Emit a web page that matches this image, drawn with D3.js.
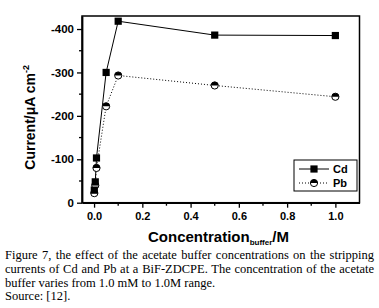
<!DOCTYPE html>
<html>
<head>
<meta charset="utf-8">
<script src="https://cdn.jsdelivr.net/npm/d3@7"></script>
<style>
  body { margin: 0; background: #fff; }
  svg { display: block; }
</style>
</head>
<body>
<div id="chart"></div>
<script>
// Chart values
const concentrations = [0.001, 0.005, 0.01, 0.05, 0.1, 0.5, 1.0];
const cdCurrent = [-29, -48, -103, -300, -418, -386, -385];
const pbCurrent = [-22, -40, -80, -222, -293, -270, -244];
const xTicks = [0, 0.2, 0.4, 0.6, 0.8, 1.0];
const xMinorTicks = [0.1, 0.3, 0.5, 0.7, 0.9];
const yTicks = [0, -100, -200, -300, -400];
const yMinorTicks = [-50, -150, -250, -350];
const captionLines = [
  'Figure 7, the effect of the acetate buffer concentrations on the stripping',
  'currents of Cd and Pb at a BiF-ZDCPE. The concentration of the acetate',
  'buffer varies from 1.0 mM to 1.0M range.',
  'Source: [12].'
];

const width = 379;
const height = 308;
const plot = { left: 82, right: 359.5, top: 16, bottom: 202.7 };

const svg = d3.select('#chart')
  .append('svg')
  .attr('width', width)
  .attr('height', height);

const x = d3.scaleLinear().domain([-0.05, 1.1]).range([plot.left, plot.right]);
const y = d3.scaleLinear().domain([0, -430]).range([plot.bottom, plot.top]);

const tickFont = 'Arial, "Liberation Sans", sans-serif';

// Frame
svg.append('rect')
  .attr('x', plot.left)
  .attr('y', plot.top)
  .attr('width', plot.right - plot.left)
  .attr('height', plot.bottom - plot.top)
  .attr('fill', 'none')
  .attr('stroke', '#000')
  .attr('stroke-width', 1.5);

// X axis
const xAxisGroup = svg.append('g').attr('transform', `translate(0,${plot.bottom})`);
xAxisGroup.call(d3.axisBottom(x).tickValues(xTicks).tickSize(5).tickSizeOuter(0).tickFormat(d3.format('.1f')))
  .call((g) => g.select('.domain').attr('stroke-width', 1.8))
  .call((g) => g.selectAll('.tick line').attr('stroke-width', 1.3))
  .call((g) => g.selectAll('.tick text')
    .attr('font-family', tickFont)
    .attr('font-weight', 'bold')
    .attr('font-size', 11)
    .attr('dy', '0.71em')
    .attr('y', 10));
xAxisGroup.selectAll('.minor')
  .data(xMinorTicks)
  .join('line')
  .attr('class', 'minor')
  .attr('x1', (d) => x(d))
  .attr('x2', (d) => x(d))
  .attr('y1', 0)
  .attr('y2', 3)
  .attr('stroke', '#000')
  .attr('stroke-width', 1.3);

// Y axis
const yAxisGroup = svg.append('g').attr('transform', `translate(${plot.left},0)`);
yAxisGroup.call(d3.axisLeft(y).tickValues(yTicks).tickSize(5).tickSizeOuter(0).tickFormat((d) => String(d)))
  .call((g) => g.select('.domain').attr('stroke-width', 1.8))
  .call((g) => g.selectAll('.tick line').attr('stroke-width', 1.3))
  .call((g) => g.selectAll('.tick text')
    .attr('font-family', tickFont)
    .attr('font-weight', 'bold')
    .attr('font-size', 11.5)
    .attr('x', -8));
yAxisGroup.selectAll('.minor')
  .data(yMinorTicks)
  .join('line')
  .attr('class', 'minor')
  .attr('x1', 0)
  .attr('x2', -3)
  .attr('y1', (d) => y(d))
  .attr('y2', (d) => y(d))
  .attr('stroke', '#000')
  .attr('stroke-width', 1.3);

// Axis titles
const yTitle = svg.append('text')
  .attr('transform', `translate(35,${(plot.top + plot.bottom) / 2 + 8}) rotate(-90)`)
  .attr('text-anchor', 'middle')
  .attr('font-family', tickFont)
  .attr('font-weight', 'bold')
  .attr('font-size', 14);
yTitle.append('tspan').text('Current/μA cm');
yTitle.append('tspan').attr('font-size', 9).attr('dy', -6).text('-2');

const xTitle = svg.append('text')
  .attr('x', 148)
  .attr('y', 242)
  .attr('font-family', tickFont)
  .attr('font-weight', 'bold')
  .attr('font-size', 15);
xTitle.append('tspan').text('Concentration');
xTitle.append('tspan').attr('font-size', 8).attr('dy', 3).text('buffer');
xTitle.append('tspan').attr('dy', -3).text('/M');

// Lines
const cdData = concentrations.map((c, i) => ({ c, v: cdCurrent[i] }));
const pbData = concentrations.map((c, i) => ({ c, v: pbCurrent[i] }));

const line = d3.line()
  .x((d) => x(d.c))
  .y((d) => y(d.v));

svg.append('path')
  .attr('fill', 'none')
  .attr('stroke', '#000')
  .attr('stroke-width', 1)
  .attr('d', line(cdData));

svg.append('path')
  .attr('fill', 'none')
  .attr('stroke', '#000')
  .attr('stroke-width', 1)
  .attr('stroke-dasharray', '1 2')
  .attr('d', line(pbData));

// Half filled circle marker
const halfCircle = (g, cx, cy, r) => {
  g.append('circle')
    .attr('cx', cx).attr('cy', cy).attr('r', r)
    .attr('fill', '#fff').attr('stroke', '#000').attr('stroke-width', 1);
  g.append('path')
    .attr('d', `M${cx - r},${cy} A${r},${r} 0 0 1 ${cx + r},${cy} Z`)
    .attr('fill', '#000');
};

// Markers
const pbMarks = svg.append('g');
pbData.forEach((d) => halfCircle(pbMarks, x(d.c), y(d.v), 3.6));

svg.append('g')
  .selectAll('rect')
  .data(cdData)
  .join('rect')
  .attr('x', (d) => x(d.c) - 3.6)
  .attr('y', (d) => y(d.v) - 3.6)
  .attr('width', 7.2)
  .attr('height', 7.2)
  .attr('fill', '#000');

// Legend
const legend = svg.append('g');
legend.append('rect')
  .attr('x', 294)
  .attr('y', 160)
  .attr('width', 63)
  .attr('height', 31)
  .attr('fill', '#fff')
  .attr('stroke', '#000')
  .attr('stroke-width', 1);
const legendRows = [
  { name: 'Cd', y: 169, dash: null },
  { name: 'Pb', y: 183, dash: '1 2' }
];
legendRows.forEach((row) => {
  legend.append('line')
    .attr('x1', 299).attr('x2', 329)
    .attr('y1', row.y).attr('y2', row.y)
    .attr('stroke', '#000')
    .attr('stroke-width', 1)
    .attr('stroke-dasharray', row.dash);
  legend.append('text')
    .attr('x', 333)
    .attr('y', row.y)
    .attr('dy', '0.35em')
    .attr('font-family', tickFont)
    .attr('font-weight', 'bold')
    .attr('font-size', 11)
    .text(row.name);
});
legend.append('rect')
  .attr('x', 314 - 3.6).attr('y', 169 - 3.6)
  .attr('width', 7.2).attr('height', 7.2)
  .attr('fill', '#000');
halfCircle(legend, 314, 183, 3.6);

// Caption, first two lines justified
const caption = svg.append('g')
  .attr('font-family', '"Liberation Serif", "Times New Roman", serif')
  .attr('font-size', 12.5)
  .attr('fill', '#000');
captionLines.forEach((t, i) => {
  const txt = caption.append('text')
    .attr('x', 5)
    .attr('y', 259 + i * 13.8)
    .text(t);
  if (i < 2) {
    const natural = txt.node().getComputedTextLength();
    const spaces = t.split(' ').length - 1;
    txt.attr('word-spacing', (369 - natural) / spaces);
  }
});
</script>
</body>
</html>
